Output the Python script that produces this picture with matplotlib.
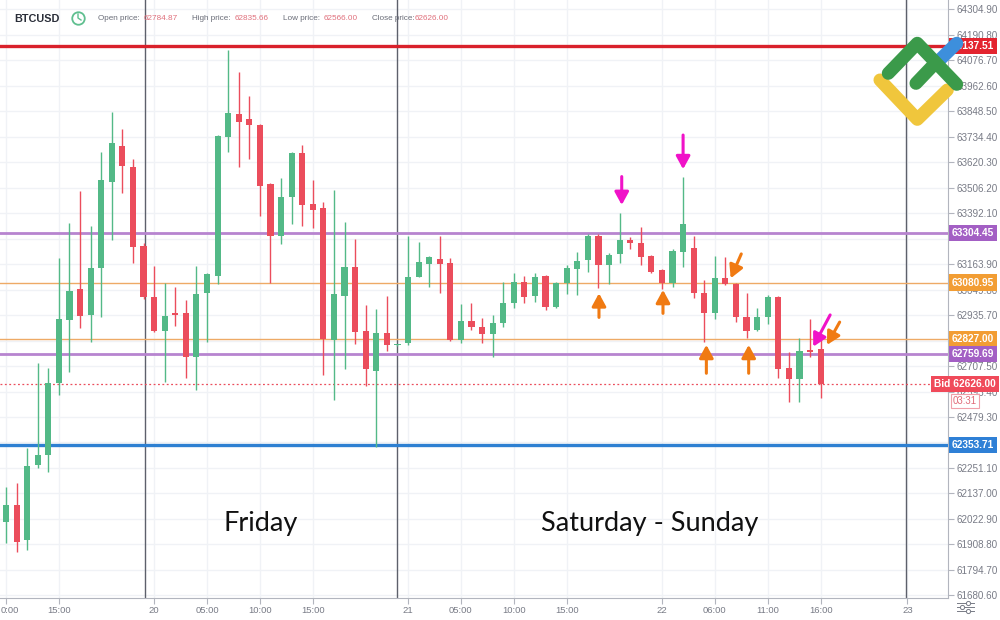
import numpy as np
import matplotlib.pyplot as plt
from matplotlib.lines import Line2D
from matplotlib.transforms import ScaledTranslation

# hourly BTCUSD candles
opens = [62011, 62086, 61929, 62265, 62309, 62633, 62913, 63051, 62936, 63145,
         63532, 63692, 63599, 63246, 63018, 62864, 62943, 62943, 62750, 63036,
         63110, 63734, 63835, 63811, 63786, 63522, 63289, 63462, 63659, 63431,
         63413, 62824, 63021, 63152, 62866, 62687, 62857, 62802, 62809, 63107,
         63164, 63185, 63167, 62824, 62910, 62881, 62851, 62899, 62988, 63085,
         63022, 63110, 62970, 63080, 63140, 63182, 63289, 63160, 63209, 63271,
         63259, 63200, 63137, 63078, 63219, 63234, 63036, 62946, 63100, 63074,
         62925, 62869, 62925, 63018, 62697, 62648, 62779, 62784.87]
highs = [62168, 62185, 62339, 62720, 62697, 63189, 63349, 63492, 63334, 63666,
         63845, 63767, 63632, 63258, 63156, 63080, 63062, 63003, 63157, 63124,
         63741, 64122, 64024, 63916, 63790, 63526, 63547, 63663, 63696, 63540,
         63443, 63495, 63353, 63275, 62981, 62961, 63021, 62808, 63289, 63264,
         63198, 63289, 63189, 62985, 62991, 62921, 62936, 63085, 63125, 63110,
         63125, 63115, 63083, 63160, 63219, 63298, 63298, 63212, 63394, 63283,
         63328, 63204, 63142, 63229, 63552, 63289, 63092, 63200, 63194, 63079,
         63036, 62966, 63025, 63021, 62772, 62832, 62917, 62835.66]
lows = [61914, 61877, 61884, 62251, 62235, 62578, 62682, 62879, 62816, 62928,
        63271, 63480, 63170, 63007, 62860, 62637, 62888, 62654, 62600, 62816,
        63074, 63666, 63599, 63632, 63379, 63080, 63253, 63343, 63335, 63324,
        62667, 62555, 62693, 62806, 62618, 62346, 62776, 62799, 62802, 63105,
        63062, 63033, 62819, 62809, 62869, 62809, 62749, 62883, 62966, 62988,
        62995, 62958, 62965, 63030, 63025, 63130, 63055, 63074, 63167, 63230,
        63160, 63125, 63051, 63060, 63152, 63011, 62816, 62917, 63070, 62906,
        62832, 62866, 62896, 62653, 62548, 62548, 62749, 62566.00]
closes = [62086, 61921, 62261, 62309, 62630, 62917, 63045, 62931, 63145, 63540,
          63704, 63602, 63241, 63018, 62864, 62931, 62936, 62750, 63030, 63118,
          63737, 63838, 63801, 63786, 63514, 63289, 63462, 63659, 63428, 63406,
          62828, 63030, 63149, 62861, 62693, 62857, 62802, 62806, 63107, 63172,
          63194, 63164, 62824, 62909, 62881, 62851, 62899, 62991, 63082, 63018,
          63107, 62970, 63080, 63145, 63179, 63289, 63160, 63204, 63271, 63259,
          63197, 63130, 63078, 63223, 63342, 63036, 62946, 63100, 63074, 62928,
          62866, 62928, 63018, 62693, 62648, 62776, 62772, 62626.00]

# x-axis labels (hour slots) and day separators
tick_pos = [0, 5, 14, 19, 24, 29, 38, 43, 48, 53, 62, 67, 72, 77, 85.2]
tick_labels = ['0:00', '15:00', '20', '05:00', '10:00', '15:00', '21', '05:00',
               '10:00', '15:00', '22', '06:00', '11:00', '16:00', '23']
separators = [13.14, 36.96, 85.07]

# price axis ticks (those hidden under the price tags are left blank)
y_ticks = [61680.6 + 114.1 * k for k in range(24)]
hidden_ticks = [6, 10, 14]

# drawn levels: price, line colour, tag colour, line width
levels = [(64137.51, '#d9212b', '#e3242f', 2.4),
          (63304.45, '#b784cf', '#a35fc4', 2.0),
          (63080.95, '#eeaa66', '#f29d33', 1.0),
          (62827.00, '#eeaa66', '#f29d33', 1.0),
          (62759.69, '#b784cf', '#a35fc4', 2.0),
          (62353.71, '#2e80d2', '#2f80d6', 2.4)]
bid = 62626.00

# annotation arrows: (tail x, tail price, tip x, tip price, colour)
arrows = [(58.2, 63555, 58.2, 63428, '#f012c8'),
          (64.0, 63741, 64.0, 63588, '#f012c8'),
          (56.05, 62925, 56.05, 63033, '#f07a12'),
          (62.1, 62943, 62.1, 63048, '#f07a12'),
          (66.2, 62675, 66.2, 62802, '#f07a12'),
          (70.2, 62675, 70.2, 62802, '#f07a12'),
          (69.5, 63209, 68.5, 63100, '#f07a12'),
          (77.9, 62936, 76.3, 62794, '#f012c8'),
          (78.8, 62904, 77.6, 62802, '#f07a12')]

green = '#53b987'
red = '#eb4d5c'
grey = '#787b86'

W, H = 1000, 620
def fx(px):
    return px / W
def fy(py):
    return 1 - py / H

fig = plt.figure(figsize=(10, 6.2), dpi=100)
ax = fig.add_axes([0, fy(598), 0.948, 598 / H])

o = np.array(opens)
c = np.array(closes)
x = np.arange(len(o))
cols = np.where(c >= o, green, red)
ax.vlines(x, lows, highs, colors=cols, lw=1, zorder=4)
ax.bar(x, np.maximum(np.abs(c - o), 5), bottom=np.minimum(o, c), width=0.58,
       color=cols, linewidth=0, zorder=5)

for price, lc, tc, lw in levels:
    ax.axhline(price, color=lc, lw=lw, zorder=3)
    ax.text(1.004, price, f'{price:.2f}', transform=ax.get_yaxis_transform(),
            ha='left', va='center', color='white', fontsize=7.3, fontweight='bold',
            family='Liberation Sans', clip_on=False, zorder=10,
            bbox=dict(boxstyle='square,pad=0.3', fc=tc, ec='none'))

ax.axhline(bid, color=red, lw=0.9, ls=(0, (1.5, 2)), zorder=3)
ax.text(1.0506, bid, f'Bid {bid:.2f}', transform=ax.get_yaxis_transform(),
        ha='right', va='center', color='white', fontsize=7.3, fontweight='bold',
        family='Liberation Sans', clip_on=False, zorder=10,
        bbox=dict(boxstyle='square,pad=0.3', fc='#f04a5a', ec='none'))
fig.text(fx(965), fy(401), '03:31', ha='center', va='center', color='#e06a78',
         fontsize=7, family='Liberation Sans',
         bbox=dict(boxstyle='square,pad=0.25', fc='white', ec='#f0a0aa', lw=0.8))

for sx in separators:
    ax.axvline(sx, color='#5d606b', lw=1, zorder=2)

for x0, y0, x1, y1, col in arrows:
    ax.annotate('', xy=(x1, y1), xytext=(x0, y0),
                arrowprops=dict(arrowstyle='-|>,head_width=0.3,head_length=0.55',
                                color=col, lw=2.2, mutation_scale=14,
                                shrinkA=0, shrinkB=0), zorder=8)

ax.set_xlim(-0.567, 89.04)
ax.set_ylim(61669.4, 64345.2)
ax.set_xticks(tick_pos)
ax.set_xticklabels(tick_labels)
ax.set_yticks(y_ticks)
ax.set_yticklabels(['' if k in hidden_ticks else f'{v:.2f}'
                    for k, v in enumerate(y_ticks)])
ax.yaxis.tick_right()
ax.tick_params(axis='y', length=4, color='#b2b5be', labelcolor=grey,
               labelsize=7.1, pad=2)
ax.tick_params(axis='x', length=4, color='#b2b5be', labelcolor=grey,
               labelsize=6.8, pad=2)
for lab in ax.get_xticklabels() + ax.get_yticklabels():
    lab.set_family('Liberation Sans')
first = ax.get_xticklabels()[0]
first.set_ha('left')
first.set_transform(first.get_transform() +
                    ScaledTranslation(-5 / 100, 0, fig.dpi_scale_trans))
ax.grid(color='#f0f2f6', lw=1, zorder=0)
ax.set_axisbelow(True)
for s in ['top', 'left']:
    ax.spines[s].set_visible(False)
for s in ['right', 'bottom']:
    ax.spines[s].set_color('#b2b5be')

# header row
fig.text(fx(14), fy(19), 'BTCUSD', ha='left', va='center', fontsize=7.8,
         fontweight='bold', color='#2a2e39', family='Liberation Sans')
fig.lines.append(Line2D([fx(78)], [fy(18)], marker='o', ms=9, mfc='none',
                        mec='#5fbf8f', mew=1.3, transform=fig.transFigure))
fig.lines.append(Line2D([fx(78), fx(78), fx(81)], [fy(14), fy(18), fy(20)],
                        color='#5fbf8f', lw=1, transform=fig.transFigure))
header = [(98, 'Open price:', 144, '62784.87'),
          (192, 'High price:', 235, '62835.66'),
          (283, 'Low price:', 324, '62566.00'),
          (372, 'Close price:', 415, '62626.00')]
for lx, lt, vx, vt in header:
    fig.text(fx(lx), fy(19), lt, ha='left', va='center', fontsize=5.9,
             color='#6a6d78', family='Liberation Sans')
    fig.text(fx(vx), fy(19), vt, ha='left', va='center', fontsize=5.9,
             color='#e0707c', family='Liberation Sans')

fig.text(fx(261), fy(523), 'Friday', ha='center', va='center', fontsize=19.5,
         color='#111111', family='Lato')
fig.text(fx(650), fy(523), 'Saturday - Sunday', ha='center', va='center',
         fontsize=19.5, color='#111111', family='Lato')

# logo
def stroke(xs, ys, col):
    fig.lines.append(Line2D([fx(v) for v in xs], [fy(v) for v in ys], color=col,
                            lw=9.4, solid_capstyle='round', solid_joinstyle='round',
                            transform=fig.transFigure, zorder=20))
stroke([880, 917.3, 947.3], [80, 119.3, 90], '#f0c63c')
stroke([937.3, 956.7], [62.3, 43.3], '#3d8fdc')
stroke([888.3, 917.3, 956.7], [73.3, 43.3, 84.3], '#3b9a4a')
stroke([916, 933], [83.3, 65.5], '#3b9a4a')

# settings icon
for yy, cx in [(603, 968), (607, 962), (611, 968)]:
    fig.lines.append(Line2D([fx(957), fx(974)], [fy(yy), fy(yy)], color=grey,
                            lw=0.7, transform=fig.transFigure))
    fig.lines.append(Line2D([fx(cx)], [fy(yy)], marker='o', ms=3, mfc='white',
                            mec=grey, mew=0.7, transform=fig.transFigure))

fig.savefig('out.png', dpi=100)
